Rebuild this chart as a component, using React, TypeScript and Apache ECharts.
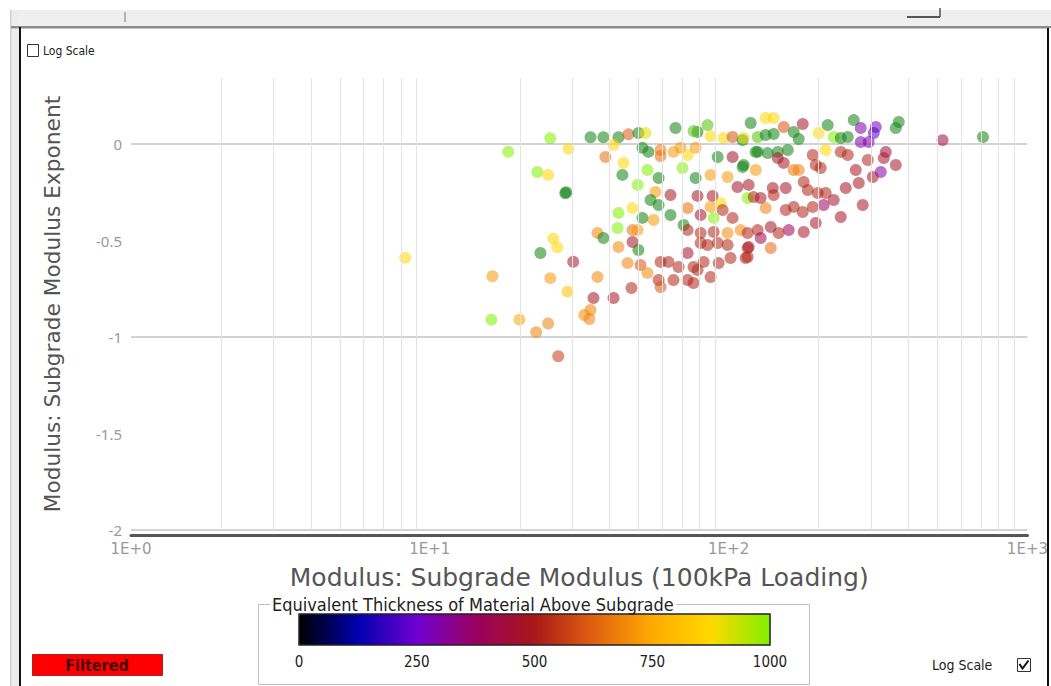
import React, { useEffect, useRef } from "react";
import * as echarts from "echarts";

// Subgrade modulus (x, log scale)
const modulus = [
  8.27, 18.3, 25.3, 22.9, 24.9, 25.9, 26.7, 23.45, 16.2, 25.3, 16.07, 19.95, 24.9, 22.7, 26.9,
  28.4, 28.6, 29.1, 30.2, 28.9, 34.5, 38.1, 42.8, 46.2, 49.9, 52.7, 66.4, 78.7, 85.0, 87.0, 96.2, 103.1, 111.4, 118.5, 125.1,
  38.7, 41.2, 51.5, 53.9, 59.2, 65.4, 69.05, 72.9, 77.5, 91.9, 103.1, 125.1,
  44.5, 44.1, 53.5, 58.3, 70.1, 77.5, 87.0, 99.2, 111.4, 107.1, 123.2,
  49.6, 56.9, 63.9, 54.8, 58.3, 78.7, 88.4, 94.0, 115.8, 121.3,
  42.8, 47.7, 51.5, 56.1, 63.9, 72.9, 87.0, 95.5, 80.6, 89.1, 103.1, 109.7, 125.1,
  42.5, 47.7, 49.6, 70.7, 72.9, 80.6, 89.1, 99.2,
  36.4, 38.1, 42.8, 47.7, 49.9, 80.6, 85.0, 91.9, 99.2, 115.8, 114.0, 72.9,
  45.9, 50.7, 53.5, 59.2, 62.9, 68.0, 76.3, 82.5, 92.6, 101.5,
  36.4, 58.3, 65.4, 72.9, 78.7, 76.3, 87.0, 47.3, 35.3, 41.2, 59.2, 34.5, 34.2, 32.9,
  133, 141.5, 152.9, 177, 214.6, 262.3, 276.8, 310.8, 371, 362.6,
  112.3, 133, 141.5, 165.1, 171.6, 200.3, 224.8, 237.3, 250.5, 276.8, 306, 294.4,
  123.2, 135.1, 146, 157.7, 191.2, 211.3, 237.3, 250.5, 335.7, 330.6,
  112.3, 146, 152.9, 165.1, 171.6, 195.7, 203.3, 266.4, 292.2, 323, 362.6, 303.7,
  116.7, 140.5, 155.3, 178.4, 184, 198.8, 211.3, 224.8, 246.6, 272.6,
  128, 141.5, 133, 155.3, 165.1, 177, 191.2, 208, 237.3, 281.1,
  195.7, 178.4, 158.9, 147.1, 138.3, 128, 115.8, 116.7, 138.3, 115.8,
  520, 710, 59.2, 76.3,
];

// Subgrade modulus exponent (y)
const exponent = [
  -0.59, -0.04, 0.03, -0.145, -0.16, -0.49, -0.535, -0.565, -0.685, -0.695, -0.91, -0.91, -0.93, -0.975, -1.1,
  -0.255, -0.25, -0.025, -0.61, -0.765, 0.035, 0.035, 0.035, 0.05, 0.057, 0.057, 0.083, 0.062, 0.098, 0.041, 0.031, 0.036, 0.02, 0.109, 0.036,
  -0.067, -0.005, -0.02, -0.041, -0.062, -0.041, -0.02, -0.057, -0.02, -0.067, -0.067, -0.041,
  -0.098, -0.16, -0.135, -0.176, -0.124, -0.176, -0.16, -0.171, -0.119, -0.223, -0.135,
  -0.212, -0.249, -0.264, -0.29, -0.316, -0.269, -0.269, -0.306, -0.28, -0.275,
  -0.357, -0.332, -0.383, -0.394, -0.368, -0.332, -0.326, -0.342, -0.368, -0.383, -0.383, -0.446, -0.446,
  -0.435, -0.446, -0.446, -0.42, -0.446, -0.461, -0.456, -0.461,
  -0.461, -0.487, -0.534, -0.508, -0.549, -0.513, -0.523, -0.513, -0.523, -0.539, -0.591, -0.565,
  -0.617, -0.627, -0.668, -0.611, -0.611, -0.637, -0.637, -0.611, -0.617, -0.591,
  -0.689, -0.705, -0.705, -0.705, -0.653, -0.72, -0.689, -0.746, -0.798, -0.798, -0.741, -0.86, -0.907, -0.886,
  0.135, 0.135, 0.088, 0.104, 0.098, 0.124, 0.083, 0.088, 0.114, 0.083,
  0.031, 0.047, 0.052, 0.062, 0.026, 0.057, 0.036, 0.031, 0.036, 0.01, 0.057, 0.01,
  -0.041, -0.047, -0.041, -0.031, -0.057, -0.031, -0.041, -0.057, -0.041, -0.073,
  -0.109, -0.073, -0.098, -0.135, -0.135, -0.109, -0.124, -0.135, -0.083, -0.145, -0.109, -0.171,
  -0.212, -0.228, -0.228, -0.197, -0.238, -0.254, -0.254, -0.29, -0.228, -0.202,
  -0.28, -0.264, -0.332, -0.342, -0.326, -0.352, -0.326, -0.316, -0.378, -0.316,
  -0.409, -0.456, -0.446, -0.461, -0.43, -0.487, -0.461, -0.534, -0.539, -0.585,
  0.02, 0.036, -0.031, 0.067,
];

// Equivalent thickness of material above subgrade (colour)
const thickness = [
  870, 1000, 1000, 1000, 870, 870, 870, 1125, 720, 720, 1000, 740, 680, 680, 560,
  1125, 1125, 870, 480, 820, 1125, 1125, 1125, 610, 1125, 900, 1125, 1125, 1050, 880, 880, 600, 1125, 1125, 1050,
  650, 870, 1125, 1125, 640, 720, 720, 870, 720, 1125, 470, 1125,
  870, 1125, 1000, 1125, 1000, 1125, 720, 720, 1125, 470, 720,
  1000, 720, 480, 1125, 1125, 480, 480, 880, 1000, 520,
  1000, 880, 1125, 720, 1125, 650, 720, 520, 470, 1000, 520, 700, 520,
  1000, 650, 720, 1125, 520, 520, 520, 700,
  690, 1125, 690, 480, 1125, 520, 520, 520, 520, 520, 520, 470,
  680, 600, 700, 520, 520, 520, 520, 520, 520, 520,
  690, 520, 520, 520, 520, 520, 520, 520, 480, 480, 600, 680, 680, 700,
  870, 870, 600, 480, 1125, 1125, 300, 270, 1125, 1125,
  900, 1125, 1125, 1125, 1125, 880, 1000, 1125, 1125, 290, 220, 290,
  1125, 1125, 1125, 1125, 520, 880, 520, 520, 420, 480,
  1125, 480, 480, 660, 680, 520, 520, 480, 520, 300, 480, 480,
  480, 480, 480, 520, 520, 520, 520, 480, 480, 480,
  480, 520, 680, 520, 520, 520, 520, 380, 480, 480,
  480, 480, 380, 520, 480, 420, 520, 480, 640, 520,
  420, 1125, 660, 1050,
];

// Minor (2..9 per decade) vertical gridline values on the log x axis
const minorGridValues = [
  2, 3, 4, 5, 6, 7, 8, 9,
  20, 30, 40, 50, 60, 70, 80, 90,
  200, 300, 400, 500, 600, 700, 800, 900,
];

const legendColors = [
  "#000000", "#0000b0", "#7000d0", "#990060", "#a81818",
  "#e06010", "#ffaa00", "#ffd800", "#80f000",
];
const beyondColor = "#108010";

const narrow = "'Liberation Sans Narrow', 'DejaVu Sans Condensed', sans-serif";
const titleFont = "'DejaVu Sans', sans-serif";

export default function App() {
  const ref = useRef<HTMLDivElement>(null);
  useEffect(() => {
    const chart = echarts.init(ref.current!, null, { renderer: "svg" });
    const data = modulus.map((m, i) => [m, exponent[i], thickness[i]]);
    const Z = 100;
    chart.setOption({
      animation: false,
      backgroundColor: "#ffffff",
      textStyle: { fontFamily: "'Noto Sans', sans-serif" },
      grid: [
        { left: 131, top: 78, width: 897, height: 452 },
        { left: 299, top: 614, width: 471, height: 31 },
      ],
      xAxis: [
        {
          type: "log",
          logBase: 10,
          min: 1,
          max: 1000,
          gridIndex: 0,
          offset: 5,
          axisLine: { show: true, onZero: false, lineStyle: { color: "#555", width: 3 } },
          axisTick: { show: false },
          splitLine: { show: false },
          axisLabel: {
            formatter: (v: number) => "1E+" + Math.round(Math.log10(v)),
            color: "#999",
            fontSize: 15,
            margin: 6,
            fontFamily: "'DejaVu Sans', sans-serif",
            showMaxLabel: true,
            showMinLabel: true,
          },
          name: "Modulus: Subgrade Modulus (100kPa Loading)",
          nameLocation: "middle",
          nameGap: 30,
          nameTextStyle: { fontSize: 25, color: "#555", fontFamily: titleFont, verticalAlign: "top" },
        },
        {
          type: "value",
          gridIndex: 1,
          min: 0,
          max: 1000,
          interval: 250,
          axisLine: { show: false },
          axisTick: { show: false },
          splitLine: { show: false },
          axisLabel: { color: "#222", fontSize: 15, margin: 9, fontFamily: narrow, formatter: (v: number) => String(v) },
        },
      ],
      yAxis: [
        {
          type: "value",
          gridIndex: 0,
          min: -2,
          max: 0.342,
          interval: 0.5,
          axisLine: { show: false },
          axisTick: { show: false },
          splitLine: { show: true, lineStyle: { color: ["#c4c4c4", "rgba(0,0,0,0)"], width: 1.5 } },
          axisLabel: { color: "#999", fontSize: 15, margin: 9, showMaxLabel: false },
          name: "Modulus: Subgrade Modulus Exponent",
          nameLocation: "middle",
          nameGap: 68,
          nameTextStyle: { fontSize: 21.7, color: "#555", fontFamily: titleFont },
        },
        { type: "value", gridIndex: 1, show: false, min: 0, max: 1 },
      ],
      visualMap: [
        {
          type: "continuous",
          show: false,
          seriesIndex: 1,
          dimension: 2,
          min: 0,
          max: 1125,
          inRange: { color: [...legendColors, beyondColor] },
        },
        {
          type: "continuous",
          show: true,
          seriesIndex: 2,
          min: 0,
          max: 1000,
          orient: "horizontal",
          left: 299,
          top: 614,
          itemWidth: 31,
          itemHeight: 471,
          calculable: false,
          hoverLink: false,
          text: ["", ""],
          padding: 0,
          inRange: { color: legendColors },
        },
      ],
      series: [
        {
          type: "line",
          data: [],
          xAxisIndex: 0,
          yAxisIndex: 0,
          z: 1,
          silent: true,
          markLine: {
            silent: true,
            symbol: "none",
            label: { show: false },
            lineStyle: { color: "#e3e3e3", width: 1, type: "solid" },
            data: minorGridValues.map((v) => ({ xAxis: v })),
          },
        },
        {
          type: "scatter",
          data,
          xAxisIndex: 0,
          yAxisIndex: 0,
          symbolSize: 12,
          itemStyle: { opacity: 0.55 },
          z: 3,
        },
        { type: "scatter", data: [], xAxisIndex: 1, yAxisIndex: 1 },
      ],
      graphic: [
        // window chrome
        { type: "rect", z: Z, shape: { x: 10, y: 10, width: 1041, height: 17 }, style: { fill: "#efefef" } },
        { type: "rect", z: Z, shape: { x: 10, y: 10, width: 9, height: 676 }, style: { fill: "#ececec" } },
        { type: "rect", z: Z, shape: { x: 10, y: 10, width: 1.5, height: 676 }, style: { fill: "#cfcfcf" } },
        { type: "rect", z: Z, shape: { x: 11, y: 26, width: 1040, height: 2 }, style: { fill: "#8c8c8c" } },
        { type: "rect", z: Z, shape: { x: 11, y: 28, width: 1040, height: 1 }, style: { fill: "#c4c4c4" } },
        { type: "rect", z: Z, shape: { x: 19, y: 27, width: 2, height: 659 }, style: { fill: "#111" } },
        { type: "rect", z: Z, shape: { x: 1047, y: 28, width: 2, height: 658 }, style: { fill: "#111" } },
        { type: "rect", z: Z, shape: { x: 1049, y: 28, width: 2, height: 658 }, style: { fill: "#fff" } },
        { type: "line", z: Z, shape: { x1: 125, y1: 12, x2: 125, y2: 22 }, style: { stroke: "#777", lineWidth: 1 } },
        { type: "line", z: Z, shape: { x1: 907, y1: 17, x2: 940, y2: 17 }, style: { stroke: "#555", lineWidth: 2 } },
        { type: "line", z: Z, shape: { x1: 940, y1: 8, x2: 940, y2: 17 }, style: { stroke: "#555", lineWidth: 1.5 } },
        // top-left log scale checkbox
        { type: "rect", z: Z, shape: { x: 27.5, y: 44.5, width: 11, height: 12 }, style: { fill: "#fff", stroke: "#333", lineWidth: 1 } },
        { type: "text", z: Z, x: 43, y: 51, style: { text: "Log Scale", fontSize: 12, fill: "#222", fontFamily: narrow, verticalAlign: "middle" } },
        // colour legend frame
        { type: "rect", z: Z, shape: { x: 258.5, y: 604.5, width: 551, height: 80 }, style: { fill: "none", stroke: "#c0c0c0", lineWidth: 1 } },
        {
          type: "text", z: Z, x: 270, y: 604,
          style: {
            text: "Equivalent Thickness of Material Above Subgrade", fontSize: 18, fill: "#222",
            fontFamily: narrow, verticalAlign: "middle", backgroundColor: "#fff", padding: [0, 2],
          },
        },
        { type: "rect", z: Z, shape: { x: 299, y: 614, width: 471, height: 31 }, style: { fill: "none", stroke: "#222", lineWidth: 1.5 } },
        // Filtered button
        { type: "rect", z: Z, shape: { x: 32.5, y: 654.5, width: 130, height: 21 }, style: { fill: "#ff0000", stroke: "#b02020", lineWidth: 1 } },
        {
          type: "text", z: Z, x: 97, y: 665,
          style: { text: "Filtered", fontSize: 16, fontWeight: "bold", fill: "#4a0000", fontFamily: narrow, align: "center", verticalAlign: "middle" },
        },
        // bottom-right log scale checkbox
        { type: "text", z: Z, x: 932, y: 665, style: { text: "Log Scale", fontSize: 14, fill: "#222", fontFamily: narrow, verticalAlign: "middle" } },
        { type: "rect", z: Z, shape: { x: 1017.5, y: 658.5, width: 13, height: 13 }, style: { fill: "#fff", stroke: "#333", lineWidth: 1 } },
        {
          type: "polyline", z: Z,
          shape: { points: [[1019.5, 664], [1022.5, 668.5], [1028.5, 660.5]] },
          style: { stroke: "#111", lineWidth: 2, fill: "none" },
        },
      ],
    });
    return () => chart.dispose();
  }, []);
  return (
    <div
      ref={ref}
      style={{ position: "fixed", left: 0, top: 0, width: 1051, height: 686, background: "#fff" }}
    />
  );
}
